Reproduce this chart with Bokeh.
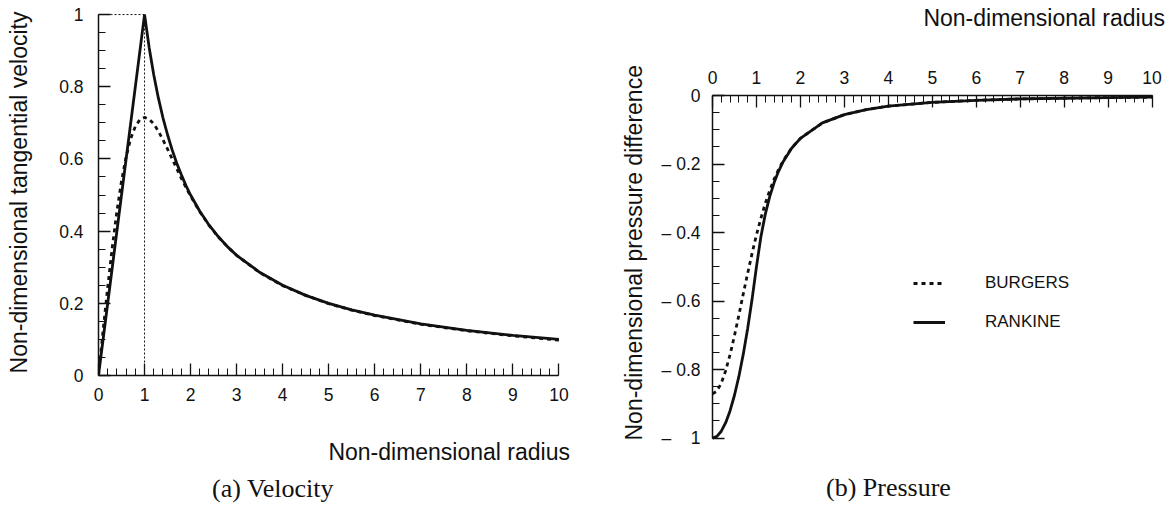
import math
from bokeh.plotting import figure
from bokeh.models import Legend, LegendItem, FixedTicker, Range1d, Div, Title
from bokeh.layouts import row, column
from bokeh.embed import file_html
from bokeh.resources import INLINE

# ---------------- data ----------------
# (a) tangential velocity
r_rankine_v = [0, 1, 1.1, 1.2, 1.3, 1.4, 1.5, 1.6, 1.7, 1.8, 1.9, 2.0, 2.2, 2.4, 2.6, 2.8,
               3.0, 3.5, 4.0, 4.5, 5.0, 5.5, 6.0, 7.0, 8.0, 9.0, 10.0]
v_rankine = [0, 1, 0.909, 0.833, 0.769, 0.714, 0.667, 0.625, 0.588, 0.556, 0.526, 0.5,
             0.455, 0.417, 0.385, 0.357, 0.333, 0.286, 0.25, 0.222, 0.2, 0.182, 0.167,
             0.143, 0.125, 0.111, 0.1]

r_burgers_v = [0, 0.1, 0.2, 0.3, 0.4, 0.5, 0.6, 0.7, 0.8, 0.9, 1.0, 1.1, 1.2, 1.3, 1.4,
               1.5, 1.6, 1.7, 1.8, 1.9, 2.0, 2.2, 2.4, 2.6, 2.8, 3.0, 3.5, 4.0, 4.5, 5.0,
               5.5, 6.0, 7.0, 8.0, 9.0, 10.0]
v_burgers = [0, 0.125, 0.245, 0.356, 0.455, 0.539, 0.606, 0.657, 0.690, 0.709, 0.715,
             0.710, 0.697, 0.677, 0.653, 0.627, 0.600, 0.573, 0.546, 0.521, 0.497, 0.454,
             0.416, 0.384, 0.357, 0.333, 0.285, 0.249, 0.222, 0.199, 0.181, 0.166, 0.142,
             0.124, 0.110, 0.098]

peak_r = 1.0
peak_v = 1.0

# (b) pressure difference
r_rankine_p = [0, 0.1, 0.2, 0.3, 0.4, 0.5, 0.6, 0.7, 0.8, 0.9, 1.0, 1.1, 1.2, 1.3, 1.4,
               1.5, 1.6, 1.8, 2.0, 2.5, 3.0, 3.5, 4.0, 5.0, 6.0, 7.0, 8.0, 9.0, 10.0]
p_rankine = [-1.0, -0.995, -0.98, -0.955, -0.92, -0.875, -0.82, -0.755, -0.68, -0.595,
             -0.5, -0.413, -0.347, -0.296, -0.255, -0.222, -0.195, -0.154, -0.125, -0.08,
             -0.056, -0.041, -0.031, -0.02, -0.014, -0.010, -0.008, -0.006, -0.005]

r_burgers_p = [0, 0.1, 0.2, 0.3, 0.4, 0.5, 0.6, 0.7, 0.8, 0.9, 1.0, 1.1, 1.2, 1.3, 1.4,
               1.5, 1.6, 1.8, 2.0, 2.5, 3.0, 3.5, 4.0, 5.0, 6.0, 7.0, 8.0, 9.0, 10.0]
p_burgers = [-0.871, -0.863, -0.840, -0.803, -0.756, -0.701, -0.641, -0.579, -0.519,
             -0.461, -0.407, -0.359, -0.315, -0.278, -0.245, -0.217, -0.192, -0.153,
             -0.125, -0.080, -0.056, -0.041, -0.031, -0.020, -0.014, -0.010, -0.008,
             -0.006, -0.005]

x_ticks = [0, 1, 2, 3, 4, 5, 6, 7, 8, 9, 10]
x_minor = [i / 5 for i in range(0, 51)]
v_ticks = [0, 0.2, 0.4, 0.6, 0.8, 1]
v_minor = [i / 20 for i in range(0, 21)]
v_labels = {0: "0", 0.2: "0.2", 0.4: "0.4", 0.6: "0.6", 0.8: "0.8", 1: "1"}
p_ticks = [-1, -0.8, -0.6, -0.4, -0.2, 0]
p_minor = [-i / 20 for i in range(0, 21)]
p_labels = {0: "0", -0.2: "\u2013\u00a00.2", -0.4: "\u2013\u00a00.4", -0.6: "\u2013\u00a00.6",
            -0.8: "\u2013\u00a00.8", -1: "\u2013\u00a0\u00a0\u00a0\u00a01"}

FONT = "Liberation Sans"
SERIF = "Liberation Serif"
INK = "#111111"


def style_axis(ax, ticks, minor, overrides=None, standoff=12):
    ax.ticker = FixedTicker(ticks=ticks, minor_ticks=minor)
    ax.axis_line_color = INK
    ax.axis_line_width = 1.5
    ax.major_tick_line_color = INK
    ax.major_tick_line_width = 1.3
    ax.minor_tick_line_color = INK
    ax.minor_tick_line_width = 1.0
    ax.major_tick_in = 12
    ax.major_tick_out = 0
    ax.minor_tick_in = 7
    ax.minor_tick_out = 0
    ax.major_label_text_font = FONT
    ax.major_label_text_font_size = "17.5px"
    ax.major_label_text_color = INK
    ax.major_label_standoff = standoff
    if overrides:
        ax.major_label_overrides = overrides


def no_align(p):
    if "frame_align" in p.properties():
        p.frame_align = False


# ---------------- (a) velocity ----------------
p1 = figure(width=600, height=432, x_range=Range1d(0, 10.1), y_range=Range1d(0, 1.014),
            output_backend="svg", toolbar_location=None,
            min_border_left=98, min_border_right=37, min_border_top=9, min_border_bottom=57,
            outline_line_color=None)
no_align(p1)
p1.grid.visible = False
style_axis(p1.xaxis[0], x_ticks, x_minor, standoff=12)
style_axis(p1.yaxis[0], v_ticks, v_minor, v_labels, standoff=15)
p1.xaxis.bounds = (0, 10)
p1.yaxis.bounds = (0, 1)
p1.yaxis.axis_label = "Non-dimensional tangential velocity"
p1.yaxis.axis_label_text_font = FONT
p1.yaxis.axis_label_text_font_size = "23px"
p1.yaxis.axis_label_text_font_style = "normal"
p1.yaxis.axis_label_text_color = INK
p1.yaxis.axis_label_standoff = 24

p1.line([0, peak_r, peak_r], [peak_v, peak_v, 0], line_color=INK, line_width=1,
        line_dash="2 2")
p1.line(r_burgers_v, v_burgers, line_color=INK, line_width=2.8, line_dash="4 4")
p1.line(r_rankine_v, v_rankine, line_color=INK, line_width=2.8)

div_a = Div(width=600, height=74, margin=0, text=(
    '<div style="width:570px; font-family:\'Liberation Sans\'; font-size:23px; '
    'line-height:40px; text-align:right; color:#111; white-space:nowrap;">'
    'Non-dimensional radius</div>'
    '<div style="width:560px; font-family:\'Liberation Serif\'; font-size:26px; '
    'line-height:34px; padding-left:212px; color:#111; white-space:nowrap;">'
    '(a) Velocity</div>'))

# ---------------- (b) pressure ----------------
p2 = figure(width=573, height=434, x_range=Range1d(0, 10.1), y_range=Range1d(-1.01, 0),
            output_backend="svg", toolbar_location=None, x_axis_location="above",
            min_border_left=112, min_border_right=17, min_border_top=59, min_border_bottom=29,
            outline_line_color=None)
no_align(p2)
p2.grid.visible = False
style_axis(p2.xaxis[0], x_ticks, x_minor, standoff=12)
style_axis(p2.yaxis[0], p_ticks, p_minor, p_labels, standoff=12)
p2.xaxis.bounds = (0, 10)
p2.yaxis.bounds = (-1, 0)

rb = p2.line(r_burgers_p, p_burgers, line_color=INK, line_width=2.8, line_dash="4 4")
rr = p2.line(r_rankine_p, p_rankine, line_color=INK, line_width=2.8)

legend = Legend(items=[LegendItem(label="BURGERS", renderers=[rb]),
                       LegendItem(label="RANKINE", renderers=[rr])],
                location=(201, 109), glyph_width=32, glyph_height=20, label_height=20,
                label_standoff=40, spacing=19, padding=0, margin=0,
                border_line_color=None, background_fill_alpha=0,
                label_text_font=FONT, label_text_font_size="17px", label_text_color=INK)
p2.add_layout(legend)

p2.add_layout(Title(text="Non-dimensional pressure difference", align="left", offset=1,
                    vertical_align="top", standoff=20,
                    text_font=FONT, text_font_size="23px", text_font_style="normal",
                    text_color=INK), "left")

div_b_top = Div(width=573, height=36, margin=0, text=(
    '<div style="width:565px; font-family:\'Liberation Sans\'; font-size:23px; '
    'line-height:36px; text-align:right; color:#111; white-space:nowrap;">'
    'Non-dimensional radius</div>'))
div_b_cap = Div(width=573, height=36, margin=0, text=(
    '<div style="width:500px; font-family:\'Liberation Serif\'; font-size:26px; '
    'line-height:36px; padding-left:226px; color:#111; white-space:nowrap;">'
    '(b) Pressure</div>'))

layout = row(column(p1, div_a), column(div_b_top, p2, div_b_cap))
open("out.html", "w").write(file_html(layout, INLINE))
